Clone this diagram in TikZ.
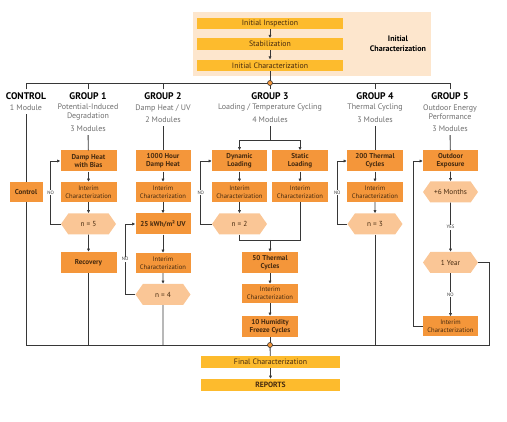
\documentclass[tikz,border=0pt]{standalone}
\usepackage{fontspec}
\setmainfont{PT Sans}
\usepackage{tikz}
\usetikzlibrary{arrows.meta,positioning,shapes.symbols}
\definecolor{ink}{RGB}{55,55,55}
\definecolor{txt}{RGB}{70,42,15}
\definecolor{cBox}{RGB}{244,150,58}
\definecolor{cHex}{RGB}{250,198,150}
\definecolor{cGold}{RGB}{253,187,45}
\definecolor{cPale}{RGB}{253,230,205}
\definecolor{cSub}{RGB}{110,110,110}
\tikzset{
  stepbox/.style={fill=cBox,minimum width=56pt,minimum height=21pt,inner sep=1pt,
    align=center,font=\fontsize{7.1}{8.2}\selectfont\bfseries,text=txt},
  interim/.style={stepbox,minimum height=20pt,font=\fontsize{6.6}{7.8}\selectfont},
  hexbox/.style={signal,signal to=west and east,signal pointer angle=110,fill=cHex,
    minimum width=55pt,minimum height=21pt,inner sep=1pt,
    font=\fontsize{7.3}{8}\selectfont,text=txt},
  gold/.style={fill=cGold,minimum width=146pt,minimum height=11.5pt,inner sep=0pt,
    font=\fontsize{7.8}{8}\selectfont,text=txt},
  grp/.style={font=\fontsize{9.6}{10}\selectfont\bfseries,inner sep=0pt},
  sub/.style={font=\fontsize{8}{9}\selectfont,text=cSub,align=center,inner sep=0pt},
  ar/.style={-{Latex[length=3.2pt,width=3.2pt]}},
  wire/.style={draw=ink,line width=0.85pt},
  tag/.style={font=\fontsize{4.8}{4.8}\selectfont,fill=white,inner sep=1pt,text=ink},
  joint/.style={circle,draw=ink,fill=cBox,minimum size=5pt,inner sep=0pt,line width=0.6pt},
}

\begin{document}
\begin{tikzpicture}[x=1pt,y=-1pt]
  \useasboundingbox (0,0) rectangle (507,422);
  \fill[cPale] (193,12) rectangle (431,76);
  \node[gold] (ii) at (270,23.5) {Initial Inspection};
  \node[gold] (stab) at (270,44) {Stabilization};
  \node[gold] (ic) at (270,65.5) {Initial Characterization};
  \node[font=\fontsize{8}{9.6}\selectfont\bfseries,align=center] (iclab) at (398,44) {Initial\\Characterization};
  \draw[wire,ar] (ii) -- (stab);
  \draw[wire,ar] (stab) -- (ic);

  \coordinate (busL) at (26,83);
  \coordinate (busR) at (450,83);
  \coordinate (top) at (270,83);
  \node[grp] (tC) at (26,96) {CONTROL};
  \node[grp] (t1) at (88,96) {GROUP 1};
  \node[grp] (t2) at (163,96) {GROUP 2};
  \node[grp] (t3) at (270,96) {GROUP 3};
  \node[grp] (t4) at (375,96) {GROUP 4};
  \node[grp] (t5) at (450,96) {GROUP 5};
  \draw[wire] (busL) -- (busR);
  \draw[wire] (ic) -- (top);
  \foreach \t in {tC,t1,t2,t3,t4,t5}
    \draw[wire] ([yshift=3pt]\t.north) -- (\t.north |- busL);
  \node[joint] (topdot) at (top) {};

  \node[sub] (sC) at (26,108) {1 Module};
  \node[sub] (s1) at (88,112.5) {Potential-Induced\\Degradation};
  \node[sub] (m1) at (88,129) {3 Modules};
  \node[sub] (s2) at (163,108) {Damp Heat / UV};
  \node[sub] (m2) at (163,120) {2 Modules};
  \node[sub] (s3) at (270,108) {Loading / Temperature Cycling};
  \node[sub] (m3) at (270,120) {4 Modules};
  \node[sub] (s4) at (375,108) {Thermal Cycling};
  \node[sub] (m4) at (375,120) {3 Modules};
  \node[sub] (s5) at (450,112.5) {Outdoor Energy\\Performance};
  \node[sub] (m5) at (450,129) {3 Modules};

  \node[stepbox,minimum width=33pt,minimum height=20pt] (cbox) at (26,192) {Control};

  \node[stepbox] (dh1) at (88.5,161) {Damp Heat\\with Bias};
  \node[interim] (ic1) at (88.5,192) {Interim\\Characterization};
  \node[hexbox] (n5) at (88.5,224) {n = 5};
  \node[stepbox] (rec) at (88.5,262.5) {Recovery};

  \node[stepbox,minimum width=55pt] (dh2) at (163,161) {1000 Hour\\Damp Heat};
  \node[interim,minimum width=55pt] (ic2a) at (163,192) {Interim\\Characterization};
  \node[stepbox,minimum width=55pt] (uv) at (163,224) {25 kWh/m² UV};
  \node[interim,minimum width=55pt] (ic2b) at (163,263) {Interim\\Characterization};
  \node[hexbox] (n4) at (163,294.5) {n = 4};

  \node[stepbox,minimum width=55pt] (dyn) at (239.5,161) {Dynamic\\Loading};
  \node[stepbox] (sta) at (300,161) {Static\\Loading};
  \node[interim,minimum width=55pt] (ic3a) at (239.5,192) {Interim\\Characterization};
  \node[interim] (ic3b) at (300,192) {Interim\\Characterization};
  \node[hexbox] (n2) at (239.5,224) {n = 2};
  \node[stepbox] (tc50) at (270,262.5) {50 Thermal\\Cycles};
  \node[interim,minimum height=19pt] (ic3c) at (270,293.5) {Interim\\Characterization};
  \node[stepbox] (hfc) at (270,326.5) {10 Humidity\\Freeze Cycles};

  \node[stepbox] (tc200) at (375,161) {200 Thermal\\Cycles};
  \node[interim] (ic4) at (375,192) {Interim\\Characterization};
  \node[hexbox] (n3) at (375,224) {n = 3};

  \node[stepbox,minimum width=55pt] (od) at (450.5,161) {Outdoor\\Exposure};
  \node[hexbox] (m6) at (450.5,192) {+6 Months};
  \node[hexbox] (y1) at (450.5,262.5) {1 Year};
  \node[interim,minimum width=55pt] (ic5) at (450.5,326.5) {Interim\\Characterization};

  \draw[wire,shorten <=3pt] (sC) -- (cbox);
  \draw[wire,shorten <=3pt] (m1) -- (dh1);
  \draw[wire,shorten <=3pt] (m2) -- (dh2);
  \draw[wire,shorten <=3pt] (m4) -- (tc200);
  \draw[wire,shorten <=3pt] (m5) -- (od);

  \draw[wire,ar] (dh1) -- (ic1);
  \draw[wire,ar] (ic1) -- (n5);
  \draw[wire,ar] (n5) -- (rec);
  \draw[wire,ar] (n5.west) -- ++(-10,0) |- node[tag,pos=0.25]{NO} (dh1.west);

  \draw[wire,ar] (dh2) -- (ic2a);
  \draw[wire,ar] (ic2a) -- (uv);
  \draw[wire,ar] (uv) -- (ic2b);
  \draw[wire,ar] (ic2b) -- (n4);
  \draw[wire,ar] (n4.west) -- ++(-10,0) |- node[tag,pos=0.25]{NO} (uv.west);

  \coordinate (j3) at (270,140);
  \coordinate (j3b) at (270,240);
  \draw[wire,shorten <=3pt] (m3) -- (j3);
  \draw[wire,ar] (j3) -| (dyn);
  \draw[wire,ar] (j3) -| (sta);
  \draw[wire,ar] (dyn) -- (ic3a);
  \draw[wire,ar] (sta) -- (ic3b);
  \draw[wire,ar] (ic3a) -- (n2);
  \draw[wire,ar] (n2.west) -- ++(-11,0) |- node[tag,pos=0.25]{NO} (dyn.west);
  \draw[wire] (n2) |- (j3b);
  \draw[wire] (ic3b) |- (j3b);
  \draw[wire,ar] (j3b) -- (tc50);
  \draw[wire,ar] (tc50) -- (ic3c);
  \draw[wire,ar] (ic3c) -- (hfc);

  \draw[wire,ar] (tc200) -- (ic4);
  \draw[wire,ar] (ic4) -- (n3);
  \draw[wire,ar] (n3.west) -- ++(-10,0) |- node[tag,pos=0.25]{NO} (tc200.west);

  \draw[wire,ar] (od) -- (m6);
  \draw[wire,ar] (m6) -- node[tag]{YES} (y1);
  \draw[wire,ar] (y1) -- node[tag]{NO} (ic5);
  \draw[wire,ar] (ic5.west) -- ++(-9,0) |- (od.west);

  \coordinate (botL) at (26,345);
  \coordinate (botR) at (489,345);
  \coordinate (botM) at (270,345);
  \node[gold,minimum width=139pt,minimum height=12pt] (fc) at (270.5,362) {Final Characterization};
  \node[gold,minimum width=139pt,minimum height=12pt,font=\fontsize{7.6}{8}\selectfont\bfseries] (rep) at (270.5,385) {REPORTS};
  \draw[wire] (y1.east) -| (botR) -- (botL) -- (cbox.south);
  \draw[wire] (rec) -- (rec |- botL);
  \draw[wire] (n4) -- (n4 |- botL);
  \draw[wire] (hfc) -- (botM);
  \draw[wire] (n3) -- (n3 |- botL);
  \draw[wire] (botM) -- (fc);
  \draw[wire,ar] (fc) -- (rep);
  \node[joint] (botdot) at (botM) {};
\end{tikzpicture}
\end{document}
